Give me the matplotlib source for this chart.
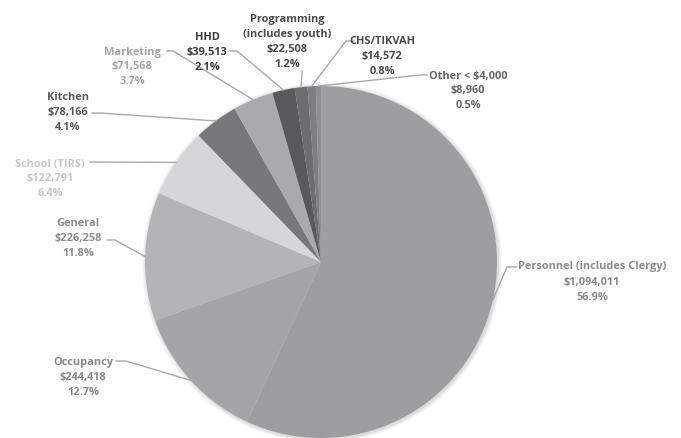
import numpy as np
import matplotlib
matplotlib.use("Agg")
import matplotlib.pyplot as plt
from matplotlib.patches import Circle

# budget categories, clockwise from 12 o'clock
categories = ["Personnel (includes Clergy)", "Occupancy", "General", "School (TIRS)",
              "Kitchen", "Marketing", "HHD", "Programming\n(includes youth)",
              "CHS/TIKVAH", "Other < $4,000"]
amounts = [1094011, 244418, 226258, 122791, 78166, 71568, 39513, 22508, 14572, 8960]
percents = ["56.9%", "12.7%", "11.8%", "6.4%", "4.1%", "3.7%", "2.1%", "1.2%", "0.8%", "0.5%"]

slice_colors = ["#9e9ea0", "#a5a5a7", "#b4b4b6", "#d6d6d8", "#78787a",
                "#aaaaac", "#59595b", "#6d6d6f", "#7e7e80", "#8f8f91"]
text_colors = ["#8a8a8a", "#888888", "#8c8c8c", "#c6c6c6", "#5a5a5a",
               "#a6a6a6", "#3c3c3c", "#4a4a4a", "#4a4a4a", "#666666"]

# label block centres and leader-line text ends (pixel coords, y from top)
label_pos = [(592, 282), (83, 378), (78, 238), (50, 179), (68, 112),
             (132, 67), (207, 52), (287, 42), (382, 56), (468, 91)]
leader_start = [[(516, 268), (507, 268)], [(116, 362), (126, 362)],
                [(107, 241), (115, 241)], [(90, 163), (98, 163)],
                [(92, 114), (100, 114)], [(167, 52), (173, 52)],
                [(230, 52), (237, 52)], [(302, 72), (302, 74)],
                [(354, 42), (346, 42)], [(427, 76), (420, 76)]]

W, H = 681, 439
cx, cy, r = 321, 263, 176

fig = plt.figure(figsize=(W / 100, H / 100), dpi=100)
ax = fig.add_axes([0, 0, 1, 1])

# soft shadow around pie
for i, a in enumerate([0.04, 0.05, 0.06, 0.08]):
    ax.add_patch(Circle((cx + 1, H - cy - 1), r + 4 - i, color="#606060", alpha=a, lw=0, zorder=0))

wedges, _ = ax.pie(amounts, colors=slice_colors, startangle=90, counterclock=False,
                   center=(cx, H - cy), radius=r, frame=True,
                   wedgeprops=dict(linewidth=0))
ax.set_xlim(0, W)
ax.set_ylim(0, H)
ax.set_aspect("equal")
ax.axis("off")

for i, w in enumerate(wedges):
    mid = np.deg2rad((w.theta1 + w.theta2) / 2)
    ex = cx + r * np.cos(mid)
    ey = (H - cy) + r * np.sin(mid)
    pts = leader_start[i]
    xs = [p[0] for p in pts] + [ex]
    ys = [H - p[1] for p in pts] + [ey]
    ax.plot(xs, ys, color="#a8a8a8", lw=1.0, zorder=3)
    txt = f"{categories[i]}\n${amounts[i]:,}\n{percents[i]}"
    lx, ly = label_pos[i]
    ax.text(lx, H - ly, txt, ha="center", va="center", fontsize=7.9,
            family="Open Sans", weight="bold", color=text_colors[i],
            linespacing=1.5, zorder=4)

fig.savefig("out.png", dpi=100, facecolor="white")
